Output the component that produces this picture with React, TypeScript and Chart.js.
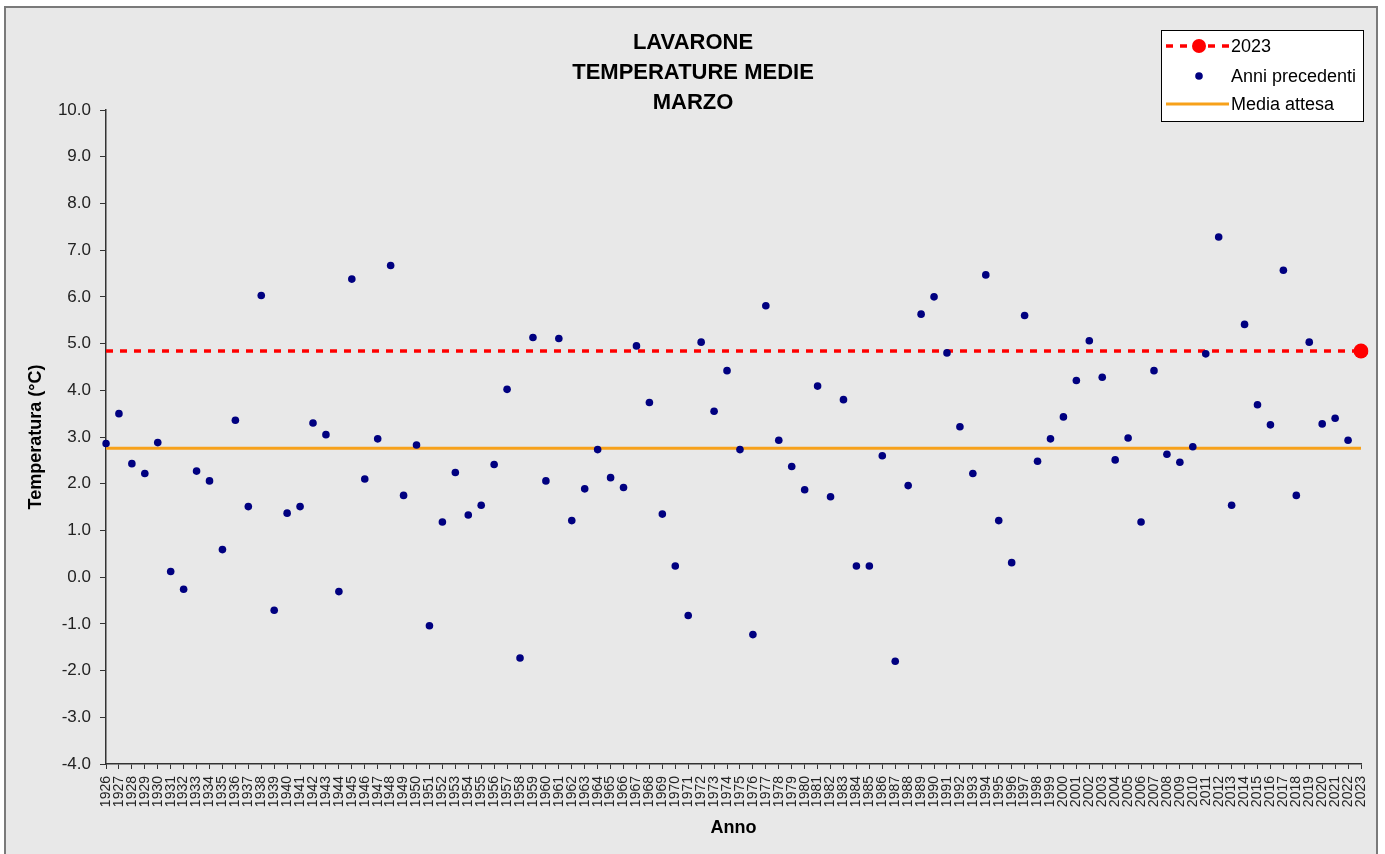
import React, { useEffect, useRef } from 'react';
import { Chart, registerables } from 'chart.js';

Chart.register(...registerables);

const titleLines = ['LAVARONE', 'TEMPERATURE MEDIE', 'MARZO'];

const years = [
  '1926', '1927', '1928', '1929', '1930', '1931', '1932', '1933', '1934', '1935',
  '1936', '1937', '1938', '1939', '1940', '1941', '1942', '1943', '1944', '1945',
  '1946', '1947', '1948', '1949', '1950', '1951', '1952', '1953', '1954', '1955',
  '1956', '1957', '1958', '1959', '1960', '1961', '1962', '1963', '1964', '1965',
  '1966', '1967', '1968', '1969', '1970', '1971', '1972', '1973', '1974', '1975',
  '1976', '1977', '1978', '1979', '1980', '1981', '1982', '1983', '1984', '1985',
  '1986', '1987', '1988', '1989', '1990', '1991', '1992', '1993', '1994', '1995',
  '1996', '1997', '1998', '1999', '2000', '2001', '2002', '2003', '2004', '2005',
  '2006', '2007', '2008', '2009', '2010', '2011', '2012', '2013', '2014', '2015',
  '2016', '2017', '2018', '2019', '2020', '2021', '2022', '2023',
];

// Anni precedenti: 1926 .. 2022
const previousValues = [
  2.86, 3.50, 2.43, 2.22, 2.88, 0.12, -0.26, 2.27, 2.06, 0.59,
  3.36, 1.51, 6.03, -0.71, 1.37, 1.51, 3.30, 3.05, -0.31, 6.38,
  2.10, 2.96, 6.67, 1.75, 2.83, -1.04, 1.18, 2.24, 1.33, 1.54,
  2.41, 4.02, -1.73, 5.13, 2.06, 5.11, 1.21, 1.89, 2.73, 2.13,
  1.92, 4.95, 3.74, 1.35, 0.24, -0.82, 5.03, 3.55, 4.42, 2.73,
  -1.23, 5.81, 2.93, 2.37, 1.87, 4.09, 1.72, 3.80, 0.24, 0.24,
  2.60, -1.80, 1.96, 5.63, 6.00, 4.80, 3.22, 2.22, 6.47, 1.21,
  0.31, 5.60, 2.48, 2.96, 3.43, 4.21, 5.06, 4.28, 2.51, 2.98,
  1.18, 4.42, 2.63, 2.46, 2.79, 4.78, 7.28, 1.54, 5.41, 3.69,
  3.26, 6.57, 1.75, 5.03, 3.28, 3.40, 2.93,
];

const value2023 = 4.84;
const mediaAttesa = 2.76;

const yTicks = [-4, -3, -2, -1, 0, 1, 2, 3, 4, 5, 6, 7, 8, 9, 10];

const FONT = '"Liberation Sans", Arial, sans-serif';
const RED = '#ff0000';
const NAVY = '#000080';
const ORANGE = '#f7a11a';

const backgroundPlugin = {
  id: 'paperBackground',
  beforeDraw(chart: any) {
    const { ctx, width, height } = chart;
    ctx.save();
    ctx.fillStyle = '#ffffff';
    ctx.fillRect(0, 0, width, height);
    ctx.fillStyle = '#e8e8e8';
    ctx.fillRect(5, 7, 1372, height);
    ctx.strokeStyle = '#7a7a7a';
    ctx.lineWidth = 2;
    ctx.strokeRect(5, 7, 1372, height + 10);
    ctx.restore();
  },
};

const titleLegendPlugin = {
  id: 'titleLegend',
  afterDraw(chart: any) {
    const { ctx } = chart;
    ctx.save();
    // title
    ctx.fillStyle = '#000000';
    ctx.font = `bold 22px ${FONT}`;
    ctx.textAlign = 'center';
    ctx.textBaseline = 'middle';
    const ys = [43, 73, 103];
    titleLines.forEach((t, i) => ctx.fillText(t, 693, ys[i]));

    // legend
    const bx = 1161, by = 30, bw = 202, bh = 91;
    ctx.fillStyle = '#ffffff';
    ctx.fillRect(bx, by, bw, bh);
    ctx.strokeStyle = '#000000';
    ctx.lineWidth = 1;
    ctx.strokeRect(bx + 0.5, by + 0.5, bw, bh);

    const ds = chart.data.datasets;
    const rows = [46, 76, 104];
    const x0 = 1166, x1 = 1229, xc = 1199;

    // 2023
    ctx.strokeStyle = RED;
    ctx.lineWidth = 3.5;
    ctx.setLineDash([7, 7]);
    ctx.beginPath();
    ctx.moveTo(x0, rows[0]);
    ctx.lineTo(x1, rows[0]);
    ctx.stroke();
    ctx.setLineDash([]);
    ctx.fillStyle = RED;
    ctx.beginPath();
    ctx.arc(xc, rows[0], 7, 0, Math.PI * 2);
    ctx.fill();

    // Anni precedenti
    ctx.fillStyle = NAVY;
    ctx.beginPath();
    ctx.arc(xc, rows[1], 3.8, 0, Math.PI * 2);
    ctx.fill();

    // Media attesa
    ctx.strokeStyle = ORANGE;
    ctx.lineWidth = 3;
    ctx.beginPath();
    ctx.moveTo(x0, rows[2]);
    ctx.lineTo(x1, rows[2]);
    ctx.stroke();

    ctx.fillStyle = '#000000';
    ctx.font = `18px ${FONT}`;
    ctx.textAlign = 'left';
    ctx.textBaseline = 'middle';
    const labelsInOrder = ['2023', 'Anni precedenti', 'Media attesa'];
    labelsInOrder.forEach((lab, i) => {
      const d = ds.find((x: any) => x.label === lab);
      ctx.fillText(d ? d.label : lab, 1231, rows[i] + 1);
    });
    ctx.restore();
  },
};

export default function App() {
  const canvasRef = useRef<HTMLCanvasElement | null>(null);

  useEffect(() => {
    if (!canvasRef.current) return;
    const last = years.length - 1;
    const chart = new Chart(canvasRef.current, {
      type: 'line',
      data: {
        labels: years,
        datasets: [
          {
            label: 'Anni precedenti',
            data: [...previousValues, null],
            showLine: false,
            pointRadius: 3.8,
            pointHoverRadius: 3.8,
            pointBackgroundColor: NAVY,
            pointBorderColor: NAVY,
            pointBorderWidth: 0,
            borderColor: NAVY,
            backgroundColor: NAVY,
            order: 0,
          },
          {
            label: '2023',
            data: years.map(() => value2023),
            borderColor: RED,
            backgroundColor: RED,
            borderWidth: 3.5,
            borderDash: [7, 7],
            pointRadius: (c: any) => (c.dataIndex === last ? 7.5 : 0),
            pointBackgroundColor: RED,
            pointBorderColor: RED,
            pointBorderWidth: 0,
            fill: false,
            order: 1,
          },
          {
            label: 'Media attesa',
            data: years.map(() => mediaAttesa),
            borderColor: ORANGE,
            backgroundColor: ORANGE,
            borderWidth: 3,
            pointRadius: 0,
            fill: false,
            order: 2,
          },
        ],
      },
      options: {
        responsive: false,
        animation: false,
        devicePixelRatio: 1,
        layout: { padding: { top: 110, right: 24, left: 0, bottom: 0 } },
        plugins: {
          legend: { display: false },
          title: { display: false },
          tooltip: { enabled: false },
        },
        scales: {
          x: {
            type: 'category',
            offset: false,
            grid: {
              drawOnChartArea: false,
              drawTicks: true,
              tickLength: 5,
              color: '#333333',
              offset: false,
            },
            border: { display: true, color: '#333333', width: 1.5 },
            ticks: {
              autoSkip: false,
              minRotation: 90,
              maxRotation: 90,
              padding: 7,
              color: '#222222',
              font: { family: FONT, size: 14 },
            },
            title: {
              display: true,
              text: 'Anno',
              color: '#000000',
              font: { family: FONT, size: 18, weight: 'bold' },
              padding: { top: 0, bottom: 15 },
            },
            afterFit: (s: any) => {
              s.height = 90;
            },
          },
          y: {
            type: 'linear',
            min: -4,
            max: 10,
            afterBuildTicks: (s: any) => {
              s.ticks = yTicks.map((v) => ({ value: v }));
            },
            grid: {
              drawOnChartArea: false,
              drawTicks: true,
              tickLength: 6,
              color: '#333333',
            },
            border: { display: true, color: '#333333', width: 1.5 },
            ticks: {
              padding: 9,
              color: '#222222',
              font: { family: FONT, size: 17 },
              callback: (v: any) => Number(v).toFixed(1),
            },
            title: {
              display: true,
              text: 'Temperatura (°C)',
              color: '#000000',
              font: { family: FONT, size: 18, weight: 'bold' },
              padding: { top: 25, bottom: 0 },
            },
            afterFit: (s: any) => {
              s.width = 106;
            },
          },
        },
      },
      plugins: [backgroundPlugin, titleLegendPlugin],
    } as any);
    return () => chart.destroy();
  }, []);

  return (
    <div style={{ position: 'fixed', left: 0, top: 0, width: 1385, height: 854 }}>
      <canvas ref={canvasRef} width={1385} height={854} style={{ width: 1385, height: 854 }} />
    </div>
  );
}
